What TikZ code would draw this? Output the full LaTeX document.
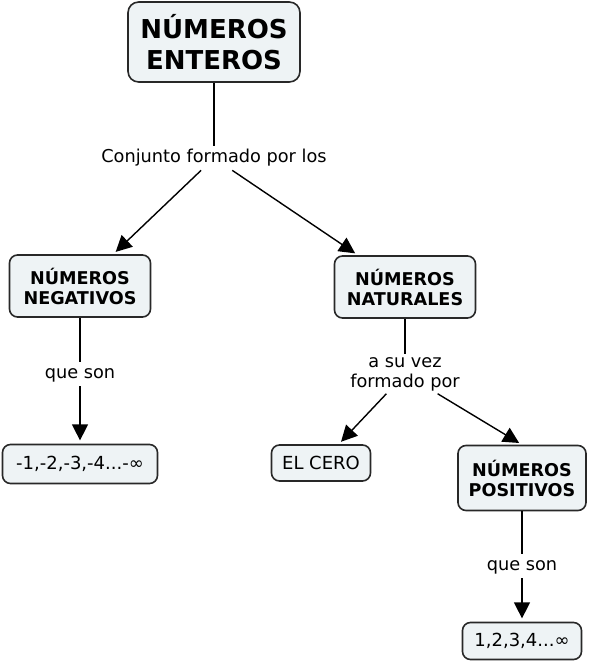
\documentclass[tikz,border=0pt]{standalone}
\usepackage{fontspec}
\setmainfont{DejaVu Sans}
\usetikzlibrary{arrows.meta}
\definecolor{boxfill}{RGB}{238,243,245}
\definecolor{boxline}{RGB}{40,40,40}
\tikzset{
  concept/.style={draw=boxline, line width=1.2pt, fill=boxfill, rounded corners=6pt,
    inner sep=0pt, align=center, font=\fontsize{13.2}{15}\selectfont\bfseries},
  plainbox/.style={concept, font=\fontsize{13.5}{15}\selectfont},
  linklabel/.style={inner sep=3pt, align=center, text height=9.5pt, text depth=2.6pt,
    font=\fontsize{13.3}{15}\selectfont},
  twolabel/.style={inner sep=2pt, align=center, font=\fontsize{13.3}{15}\selectfont},
  conn/.style={line width=1.05pt, draw=black},
  arr/.style={conn, -{Triangle[length=12pt,width=12pt]}, shorten >=2.5pt}
}
\begin{document}
\begin{tikzpicture}[x=0.75pt,y=-0.75pt]
\useasboundingbox (0,0) rectangle (595,665);
\node[concept, rounded corners=8pt, minimum width={172*0.75pt}, minimum height={80*0.75pt},
  font=\fontsize{19.5}{23.5}\selectfont\bfseries] (top) at (214,42) {NÚMEROS\\ENTEROS};
\node[linklabel] (conj) at (214,158) {Conjunto formado por los};
\node[concept, minimum width={141*0.75pt}, minimum height={62*0.75pt}] (neg) at (80,286) {NÚMEROS\\NEGATIVOS};
\node[concept, minimum width={141*0.75pt}, minimum height={62*0.75pt}] (nat) at (405,287) {NÚMEROS\\NATURALES};
\node[linklabel] (qs1) at (80,374) {que son};
\node[twolabel] (ab) at (405,374) {a su vez\\formado por};
\node[plainbox, minimum width={155*0.75pt}, minimum height={39*0.75pt}] (m1) at (80,464) {-1,-2,-3,-4...-∞};
\node[plainbox, minimum width={99*0.75pt}, minimum height={36*0.75pt}] (cero) at (321,463) {EL CERO};
\node[concept, minimum width={128*0.75pt}, minimum height={65*0.75pt}] (pos) at (522,478) {NÚMEROS\\POSITIVOS};
\node[linklabel] (qs2) at (522,566) {que son};
\node[plainbox, minimum width={119*0.75pt}, minimum height={37*0.75pt}] (p1) at (522,641) {1,2,3,4...∞};
\draw[conn] (top) -- (conj);
\draw[arr] (conj) -- (neg);
\draw[arr] (conj) -- (nat);
\draw[conn] (neg) -- (qs1);
\draw[arr] (qs1) -- (m1);
\draw[conn] (nat) -- (ab);
\draw[arr] (ab) -- (cero);
\draw[arr] (ab) -- (pos.north);
\draw[conn] (pos) -- (qs2);
\draw[arr] (qs2) -- (p1);
\end{tikzpicture}
\end{document}
